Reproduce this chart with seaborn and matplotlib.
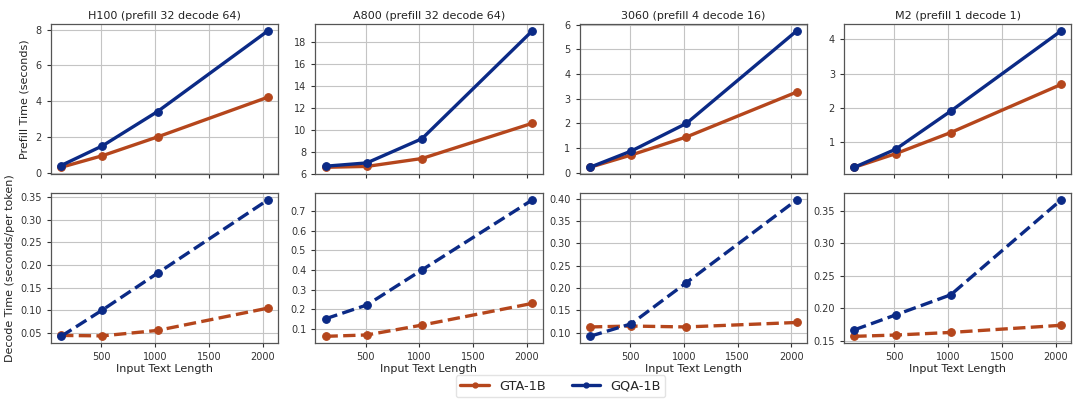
import matplotlib
matplotlib.use("Agg")
import matplotlib.pyplot as plt
from matplotlib.lines import Line2D
import seaborn as sns
import pandas as pd

sns.set_style("ticks")
plt.rcParams['font.family'] = ['DejaVu Sans']

lengths = [128, 512, 1024, 2048]
devices = ["H100 (prefill 32 decode 64)", "A800 (prefill 32 decode 64)",
           "3060 (prefill 4 decode 16)", "M2 (prefill 1 decode 1)"]

prefill_gta = [
    [0.30, 0.95, 2.00, 4.22],
    [6.60, 6.68, 7.40, 10.60],
    [0.22, 0.72, 1.45, 3.27],
    [0.25, 0.65, 1.27, 2.68],
]
prefill_gqa = [
    [0.40, 1.50, 3.42, 7.93],
    [6.70, 7.00, 9.20, 19.00],
    [0.22, 0.88, 2.00, 5.75],
    [0.25, 0.78, 1.90, 4.25],
]
decode_gta = [
    [0.045, 0.044, 0.056, 0.105],
    [0.063, 0.070, 0.120, 0.230],
    [0.113, 0.115, 0.113, 0.123],
    [0.157, 0.159, 0.163, 0.174],
]
decode_gqa = [
    [0.043, 0.101, 0.182, 0.343],
    [0.152, 0.222, 0.400, 0.755],
    [0.092, 0.120, 0.212, 0.397],
    [0.167, 0.190, 0.221, 0.367],
]
models = ["GTA-1B", "GQA-1B"]
colors = {"GTA-1B": "#b5461c", "GQA-1B": "#0b2a86"}

fig, axes = plt.subplots(2, 4, figsize=(10.8, 4.09), dpi=100, sharex=True)
fig.subplots_adjust(left=0.047, right=0.992, top=0.941, bottom=0.161,
                    wspace=0.163, hspace=0.127)

def draw(ax, gta, gqa, ls):
    for name, vals in zip(models, [gta, gqa]):
        df = pd.DataFrame({"len": lengths, "t": vals})
        sns.lineplot(data=df, x="len", y="t", ax=ax, color=colors[name],
                     marker="o", markersize=5.5, linewidth=2.4, linestyle=ls,
                     markeredgecolor=colors[name], markeredgewidth=0.8)
    ax.grid(True, color="#c4c4c4", linewidth=0.8)
    ax.set_axisbelow(True)
    for s in ax.spines.values():
        s.set_color("#555555")
        s.set_linewidth(0.9)
    ax.tick_params(labelsize=7, colors="#333333", length=3, width=0.8)
    ax.set_xlabel("")
    ax.set_ylabel("")

for i in range(4):
    top = axes[0, i]
    bot = axes[1, i]
    draw(top, prefill_gta[i], prefill_gqa[i], "-")
    draw(bot, decode_gta[i], decode_gqa[i], "--")
    top.set_title(devices[i], fontsize=8, color="#222222", pad=4)
    bot.set_xlabel("Input Text Length", fontsize=8, color="#222222", labelpad=1)
    bot.set_xticks([500, 1000, 1500, 2000])

axes[0, 0].set_ylabel("Prefill Time (seconds)", fontsize=8, color="#222222")
axes[1, 0].set_ylabel("Decode Time (seconds/per token)", fontsize=8, color="#222222")
axes[0, 1].set_yticks([6, 8, 10, 12, 14, 16, 18])
axes[0, 3].set_yticks([1, 2, 3, 4])
axes[1, 1].set_yticks([0.1, 0.2, 0.3, 0.4, 0.5, 0.6, 0.7])

handles = [Line2D([0], [0], color=colors[m], lw=2.4, marker="o", markersize=3.5)
           for m in models]
fig.legend(handles, models, loc="center", bbox_to_anchor=(0.519, 0.056),
           ncol=2, fontsize=9.3, frameon=True, edgecolor="#dddddd",
           handlelength=2.2, columnspacing=2.0, borderpad=0.35)

fig.savefig("out.png", dpi=100)
